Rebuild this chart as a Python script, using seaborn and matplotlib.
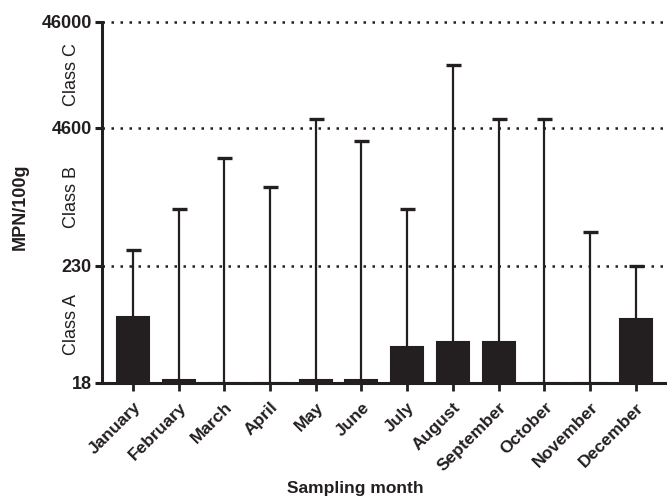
import numpy as np
import pandas as pd
import seaborn as sns
import matplotlib.pyplot as plt
from matplotlib.ticker import NullLocator

# values (MPN/100g, log axis)
months = ['January', 'February', 'March', 'April', 'May', 'June',
          'July', 'August', 'September', 'October', 'November', 'December']
mpn_mean = [76, 19.2, 18, 18, 19, 19.3, 39.6, 44, 44, 18, 18, 72]
mpn_max = [325, 786, 2400, 1285, 5560, 3494, 786, 18100, 5560, 5560, 477, 229]
class_limits = [18, 230, 4600, 46000]
class_names = ['Class A', 'Class B', 'Class C']

sns.set_style('ticks')
plt.rcParams['font.family'] = ['Liberation Sans', 'DejaVu Sans']

ink = '#231f20'
df = pd.DataFrame({'Month': months, 'MPN': mpn_mean})

fig, ax = plt.subplots(figsize=(6.67, 4.99), dpi=100)
fig.subplots_adjust(left=0.1525, right=1.0, top=0.956, bottom=0.2325)

sns.barplot(data=df, x='Month', y='MPN', color=ink, saturation=1, width=0.7,
            errorbar=None, edgecolor=ink, linewidth=1.5, ax=ax, zorder=3)

# upward-only error bars
upper = np.array(mpn_max) - np.array(mpn_mean)
_, caps, _ = ax.errorbar(np.arange(len(months)), mpn_mean,
                         yerr=[np.zeros(len(months)), upper], fmt='none',
                         ecolor=ink, elinewidth=1.6, capsize=5.4, capthick=2.4,
                         zorder=2)
caps[0].set_visible(False)

ax.set_yscale('log')
ax.set_ylim(class_limits[0], class_limits[-1])
ax.set_yticks(class_limits)
ax.set_yticklabels([str(v) for v in class_limits], fontweight='bold')
ax.yaxis.set_minor_locator(NullLocator())
ax.set_xlim(-0.68, len(months) - 0.32)

# class boundaries
for v in class_limits[1:]:
    ax.axhline(v, color=ink, lw=1.8, ls=(0, (1, 2.6)), clip_on=False, zorder=1)

for i, name in enumerate(class_names):
    ymid = np.sqrt(class_limits[i] * class_limits[i + 1])
    ax.text(-0.053, ymid, name, transform=ax.get_yaxis_transform(),
            rotation=90, ha='center', va='center', fontsize=13, color=ink)

sns.despine(ax=ax)
for side in ['left', 'bottom']:
    ax.spines[side].set_linewidth(2.2)
    ax.spines[side].set_color(ink)

ax.tick_params(axis='y', length=5, width=2.2, labelsize=13, pad=2, colors=ink)
ax.tick_params(axis='x', length=6, width=2, labelsize=12.5, pad=6, colors=ink)
ax.set_xticks(range(len(months)))
ax.set_xticklabels(months, rotation=45, ha='right', rotation_mode='anchor',
                   fontweight='bold')
ax.set_xlabel('')
ax.set_ylabel('')

fig.text(20.5 / 667, 1 - 207 / 499, 'MPN/100g', rotation=90, ha='center',
         va='center', fontsize=13, fontweight='bold', color=ink)
fig.text(355.5 / 667, 1 - 489 / 499, 'Sampling month', ha='center',
         va='center', fontsize=12.5, fontweight='bold', color=ink)

fig.savefig('out.png', dpi=100)
